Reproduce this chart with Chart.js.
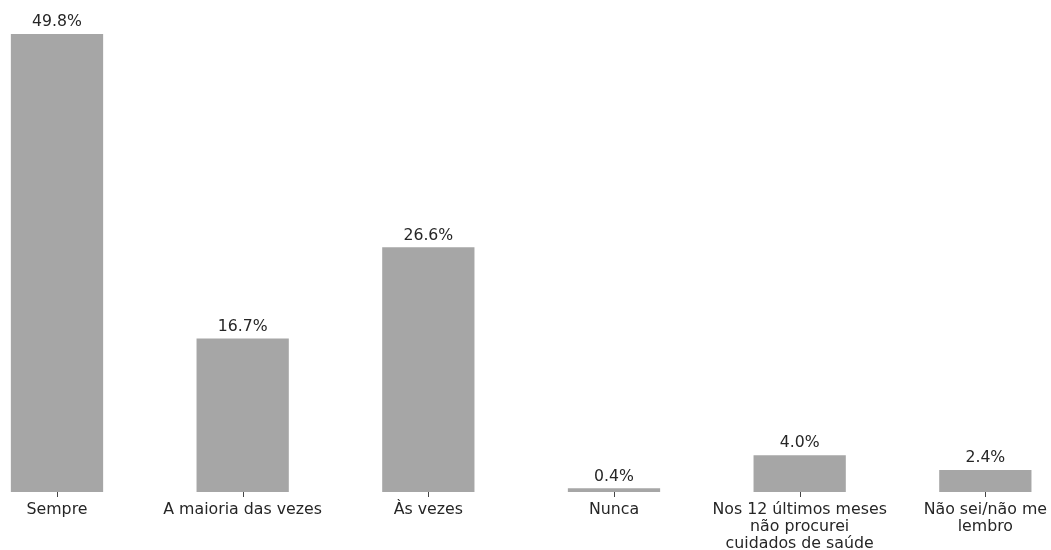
<!DOCTYPE html>
<html>
<head>
<meta charset="utf-8">
<script src="https://cdn.jsdelivr.net/npm/chart.js@4/dist/chart.umd.min.js"></script>
<style>
  html, body { margin: 0; padding: 0; background: #fff; }
  #wrap { width: 1051px; height: 550px; }
</style>
</head>
<body>
<div id="wrap"><canvas id="chart" width="1051" height="550"></canvas></div>
<script>
// categorias e valores (%)
const categories = [
    'Sempre',
    'A maioria das vezes',
    'Às vezes',
    'Nunca',
    ['Nos 12 últimos meses', 'não procurei', 'cuidados de saúde'],
    ['Não sei/não me', 'lembro']
];
const percents = [49.8, 16.7, 26.6, 0.4, 4.0, 2.4];
const yMax = 52.3;

// rótulos de valor acima das barras + marcas do eixo x
const valueLabels = {
    id: 'valueLabels',
    afterDatasetsDraw(chart) {
        const ctx = chart.ctx;
        const meta = chart.getDatasetMeta(0);
        const xs = chart.scales.x;
        const base = chart.chartArea.bottom;
        ctx.save();
        ctx.strokeStyle = '#444';
        ctx.lineWidth = 1;
        xs.ticks.forEach((t, i) => {
            const px = Math.round(xs.getPixelForTick(i)) + 0.5;
            ctx.beginPath();
            ctx.moveTo(px, base);
            ctx.lineTo(px, base + 5);
            ctx.stroke();
        });
        ctx.font = '15.7px "DejaVu Sans"';
        ctx.fillStyle = '#262626';
        ctx.textAlign = 'center';
        ctx.textBaseline = 'bottom';
        meta.data.forEach((bar, i) => {
            ctx.fillText(percents[i].toFixed(1) + '%', bar.x, bar.y - 4);
        });
        ctx.restore();
    }
};

new Chart(document.getElementById('chart'), {
    type: 'bar',
    data: {
        labels: categories,
        datasets: [{
            data: percents,
            backgroundColor: '#a6a6a6',
            borderWidth: 0,
            categoryPercentage: 1,
            barPercentage: 0.497,
            clip: false
        }]
    },
    options: {
        responsive: false,
        animation: false,
        layout: { padding: { left: 57, right: 65, top: 11, bottom: 0 } },
        plugins: { legend: { display: false }, tooltip: { enabled: false } },
        scales: {
            x: {
                offset: false,
                border: { display: false },
                grid: { display: true, drawOnChartArea: false, drawTicks: true, tickLength: 5, color: 'rgba(0,0,0,0)' },
                ticks: {
                    autoSkip: false,
                    maxRotation: 0,
                    padding: 4,
                    color: '#262626',
                    font: { family: '"DejaVu Sans"', size: 15.8, lineHeight: 1.08 }
                },
                afterFit(scale) { scale.height = 58; }
            },
            y: {
                display: false,
                min: 0,
                max: yMax
            }
        }
    },
    plugins: [valueLabels]
});
</script>
</body>
</html>
